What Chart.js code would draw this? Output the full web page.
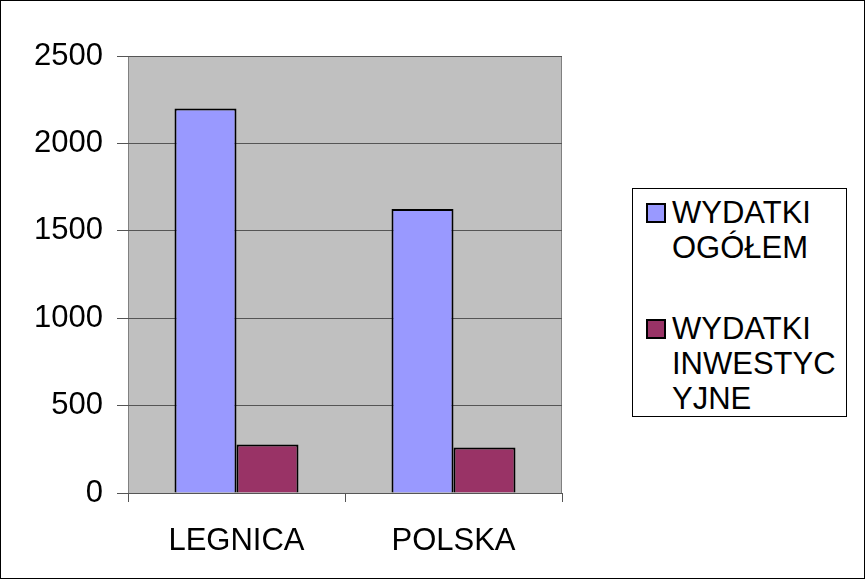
<!DOCTYPE html>
<html>
<head>
<meta charset="utf-8">
<script src="https://cdn.jsdelivr.net/npm/chart.js@4.4.1/dist/chart.umd.min.js"></script>
<style>
  html, body { margin: 0; padding: 0; background: #fff; }
  #wrap { position: relative; width: 865px; height: 579px; }
  #legend {
    position: absolute; left: 632px; top: 188px; width: 213px; height: 227px;
    border: 1px solid #000; background: #fff;
    font-family: "Liberation Sans", Arial, sans-serif; font-size: 31px; line-height: 35px; color: #000;
  }
  .item { position: absolute; left: 13px; }
  .box { position: absolute; left: 0; top: 8px; width: 16px; height: 16px; border: 2px solid #000; }
  .txt { position: absolute; left: 26px; white-space: nowrap; }
</style>
</head>
<body>
<div id="wrap">
  <canvas id="chart" width="865" height="579"></canvas>
  <div id="legend"></div>
</div>
<script>
// data
const categories = ['LEGNICA', 'POLSKA'];
const wydatkiOgolem = [2200, 1625];
const wydatkiInwestycyjne = [277, 261];
const seriesNames = ['WYDATKI OGÓŁEM', 'WYDATKI INWESTYCYJNE'];
const legendLines = [['WYDATKI', 'OGÓŁEM'], ['WYDATKI', 'INWESTYC', 'YJNE']];
const yTicks = [0, 500, 1000, 1500, 2000, 2500];

const font = { family: '"Liberation Sans", Arial, sans-serif', size: 31 };

// gray plot background and frame
const plotBg = {
  id: 'plotBg',
  beforeDraw(chart) {
    const c = chart.ctx, a = chart.chartArea;
    c.save();
    c.fillStyle = '#c0c0c0';
    c.fillRect(a.left, a.top, a.right - a.left, a.bottom - a.top);
    c.strokeStyle = '#808080';
    c.lineWidth = 1;
    c.strokeRect(a.left + 0.5, a.top + 0.5, a.right - a.left - 1, a.bottom - a.top);
    c.restore();
  },
  afterDraw(chart) {
    const c = chart.ctx;
    c.save();
    c.strokeStyle = '#000';
    c.lineWidth = 1;
    c.strokeRect(0.5, 0.5, chart.width - 1, chart.height - 1);
    c.restore();
  }
};

const chart = new Chart(document.getElementById('chart').getContext('2d'), {
  type: 'bar',
  data: {
    labels: categories,
    datasets: [
      {
        label: seriesNames[0],
        data: wydatkiOgolem,
        backgroundColor: '#9999ff',
        borderColor: '#000',
        borderWidth: 2,
      },
      {
        label: seriesNames[1],
        data: wydatkiInwestycyjne,
        backgroundColor: '#993366',
        borderColor: '#000',
        borderWidth: 2,
      },
    ],
  },
  options: {
    responsive: false,
    animation: false,
    devicePixelRatio: 1,
    layout: { padding: { left: 0, top: 56, right: 303, bottom: 0 } },
    datasets: { bar: { categoryPercentage: 2 / 3.5, barPercentage: 1 } },
    plugins: { legend: { display: false }, tooltip: { enabled: false } },
    scales: {
      x: {
        grid: { offset: true, drawOnChartArea: false, color: '#555', tickLength: 9 },
        border: { display: false },
        ticks: { color: '#000', font: font, padding: 21, maxRotation: 0 },
        afterFit(s) { s.height = 86; },
      },
      y: {
        min: 0,
        max: 2500,
        afterBuildTicks(s) { s.ticks = yTicks.map(v => ({ value: v })); },
        grid: { color: '#555', tickLength: 11 },
        border: { display: false },
        ticks: { color: '#000', font: font, padding: 14, callback: v => String(v) },
        afterFit(s) { s.width = 128; },
      },
    },
  },
  plugins: [plotBg],
});

// legend built from the datasets
const legendBox = document.getElementById('legend');
let legendTop = 6;
chart.data.datasets.forEach((ds, i) => {
  const item = document.createElement('div');
  item.className = 'item';
  item.style.top = legendTop + 'px';
  const box = document.createElement('div');
  box.className = 'box';
  box.style.background = ds.backgroundColor;
  const txt = document.createElement('div');
  txt.className = 'txt';
  txt.innerHTML = legendLines[i].join('<br>');
  item.appendChild(box);
  item.appendChild(txt);
  legendBox.appendChild(item);
  legendTop += legendLines[i].length * 35 + 46;
});
</script>
</body>
</html>
